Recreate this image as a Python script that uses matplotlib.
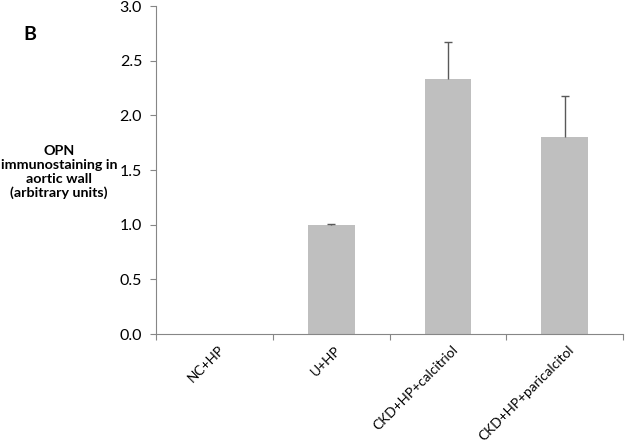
import numpy as np
import matplotlib
matplotlib.use("Agg")
import matplotlib.pyplot as plt

# data
groups = ["NC+HP", "U+HP", "CKD+HP+calcitriol", "CKD+HP+paricalcitol"]
opn = [0.0, 1.0, 2.33, 1.80]
opn_err = [0.0, 0.005, 0.34, 0.375]
yticks = [0.0, 0.5, 1.0, 1.5, 2.0, 2.5, 3.0]

plt.rcParams['font.family'] = ['Lato', 'DejaVu Sans']

fig = plt.figure(figsize=(6.25, 4.42), dpi=100)
ax = fig.add_axes([0.2496, 0.2443, 0.7474, 0.7421])

x = np.arange(len(groups))
tops = np.array(opn) + np.array(opn_err)
ax.bar(x, opn, width=0.40, color="#BFBFBF", zorder=2)
# plus-only error bars like Excel: stem + top cap only
ax.vlines(x, opn, tops, color="#595959", lw=1.0, zorder=3)
ax.plot(x[1:], tops[1:], ls="none", marker="_", ms=6, mew=1.0, color="#595959", zorder=3)

ax.set_xlim(-0.5, len(groups) - 0.5)
ax.set_ylim(0, 3.0)
ax.set_yticks(yticks)
ax.set_yticklabels(["%.1f" % t for t in yticks], fontsize=11.5)

# category ticks at boundaries, labels at centres
ax.set_xticks(np.arange(len(groups) + 1) - 0.5)
ax.set_xticklabels([])
ax.tick_params(axis="x", length=4, color="#868686")
for xi, g in zip(x, groups):
    ax.text(xi + 0.03, -0.09, g, rotation=45, ha="right", va="top",
            rotation_mode="anchor", fontsize=9.8, transform=ax.transData)
ax.tick_params(axis="y", length=4, color="#868686", pad=6)

for s in ["top", "right"]:
    ax.spines[s].set_visible(False)
for s in ["left", "bottom"]:
    ax.spines[s].set_color("#868686")

fig.text(59 / 625, 1 - 172 / 442, "OPN\nimmunostaining in\naortic wall\n(arbitrary units)",
         ha="center", va="center", fontsize=10.3, fontweight="bold", linespacing=1.2)
fig.text(30 / 625, 1 - 35 / 442, "B", ha="center", va="center",
         fontsize=14, fontweight="bold")

fig.savefig("out.png", dpi=100)
